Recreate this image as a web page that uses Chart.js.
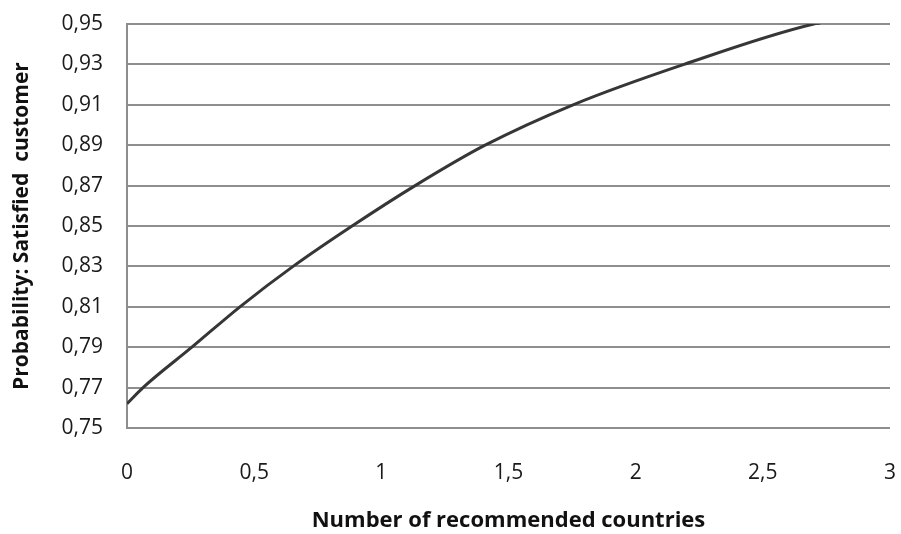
<!DOCTYPE html>
<html>
<head>
<meta charset="utf-8">
<script src="https://cdn.jsdelivr.net/npm/chart.js@4/dist/chart.umd.min.js"></script>
<style>
  html, body { margin: 0; padding: 0; background: #fff; }
  #wrap { width: 901px; height: 534px; }
</style>
</head>
<body>
<div id="wrap"><canvas id="data-chart" width="901" height="534"></canvas></div>
<script>
// Dati
var countries = [0, 0.063, 0.255, 0.444, 0.653, 0.885, 1.133, 1.408, 1.754, 2.19, 2.70, 2.725];
var probability = [0.762, 0.77, 0.79, 0.81, 0.83, 0.85, 0.87, 0.89, 0.91, 0.93, 0.95, 0.9505];
var xTicks = [0, 0.5, 1, 1.5, 2, 2.5, 3];
var yTicks = [0.75, 0.77, 0.79, 0.81, 0.83, 0.85, 0.87, 0.89, 0.91, 0.93, 0.95];

var points = [];
for (var i = 0; i < countries.length; i++) {
	points.push({ x: countries[i], y: probability[i] });
}

var comma = function(v, dec){
	return (dec ? v.toFixed(dec) : String(v)).replace('.', ',');
};

var ctx = document.getElementById('data-chart').getContext('2d');
var myChart = new Chart(ctx, {
	type: 'scatter',
	data: {
		datasets: [{
			label: 'Probability',
			data: points,
			showLine: true,
			borderColor: '#363636',
			backgroundColor: '#363636',
			borderWidth: 3,
			pointRadius: 0,
			cubicInterpolationMode: 'monotone',
			fill: false
		}]
	},
	options: {
		responsive: false,
		animation: false,
		layout: { padding: { top: 24, right: 11, left: 0, bottom: 0 }, autoPadding: false },
		plugins: { legend: { display: false }, tooltip: { enabled: false } },
		scales: {
			x: {
				type: 'linear',
				min: 0, max: 3,
				afterBuildTicks: function(axis){ axis.ticks = xTicks.map(function(v){ return { value: v }; }); },
				afterFit: function(axis){
					// niente padding automatico per le etichette
					axis.height = 106;
					axis.paddingLeft = 0;
					axis.paddingRight = 0;
				},
				grid: { display: false, drawTicks: false },
				border: { display: false },
				ticks: {
					padding: 32,
					color: '#1a1a1a',
					font: { family: 'Open Sans', size: 21 },
					callback: function(v){ return comma(v); }
				},
				title: {
					display: true,
					text: 'Number of recommended countries',
					color: '#111',
					font: { family: 'Open Sans', size: 22, weight: 'bold' },
					padding: { top: 0, bottom: 0 }
				}
			},
			y: {
				type: 'linear',
				min: 0.75, max: 0.95,
				afterBuildTicks: function(axis){ axis.ticks = yTicks.map(function(v){ return { value: v }; }); },
				afterFit: function(axis){
					axis.width = 127;
					axis.paddingTop = 0;
					axis.paddingBottom = 0;
				},
				grid: { color: '#8e8e8e', lineWidth: 2, drawTicks: false },
				border: { display: true, color: '#8e8e8e', width: 2 },
				ticks: {
					padding: 24,
					color: '#1a1a1a',
					font: { family: 'Open Sans', size: 21 },
					callback: function(v){ return comma(v, 2); }
				},
				title: {
					display: true,
					text: 'Probability: Satisfied  customer',
					color: '#111',
					font: { family: 'Open Sans', size: 21, weight: 'bold' },
					padding: { top: 9, bottom: 0 }
				}
			}
		}
	}
});
</script>
</body>
</html>
